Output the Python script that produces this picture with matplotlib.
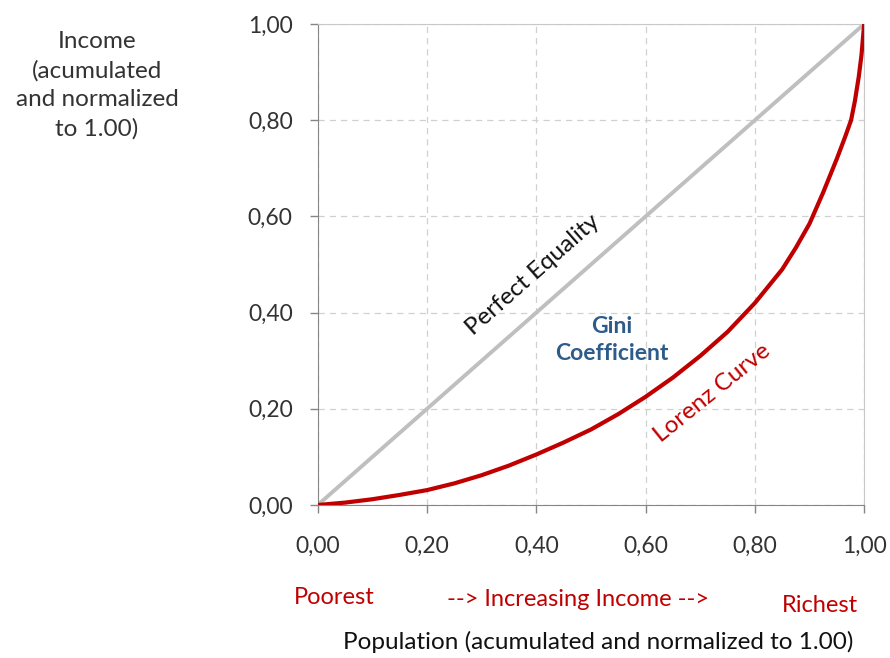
"""Lorenz curve vs. perfect equality line, Excel-style annotated chart."""

import matplotlib
matplotlib.use("Agg")
import matplotlib.pyplot as plt

# population share (x) and income share (y)
pop_share = [0.0, 0.05, 0.10, 0.15, 0.20, 0.25, 0.30, 0.35, 0.40, 0.45, 0.50,
             0.55, 0.60, 0.65, 0.70, 0.75, 0.80, 0.85, 0.875, 0.90, 0.925,
             0.95, 0.965, 0.976, 0.983, 0.99, 0.995, 1.0]
income_share = [0.0, 0.005, 0.012, 0.021, 0.031, 0.045, 0.062, 0.082, 0.105, 0.130, 0.157,
                0.189, 0.225, 0.265, 0.31, 0.36, 0.42, 0.49, 0.535, 0.585, 0.65,
                0.72, 0.765, 0.80, 0.84, 0.89, 0.935, 1.0]
equality_x = [0.0, 1.0]
equality_y = [0.0, 1.0]
ticks = [0.0, 0.2, 0.4, 0.6, 0.8, 1.0]
tick_labels = ["0,00", "0,20", "0,40", "0,60", "0,80", "1,00"]

RED = "#C00000"
BLUE = "#2E5C8A"
plt.rcParams["font.family"] = ["Lato", "DejaVu Sans"]

fig = plt.figure(figsize=(8.9, 6.58), dpi=100)
ax = fig.add_axes([0.357, 0.2325, 0.614, 0.731])

ax.plot(equality_x, equality_y, color="#BFBFBF", lw=2.8, solid_capstyle="butt", zorder=2)
ax.plot(pop_share, income_share, color=RED, lw=3.0, solid_joinstyle="round", zorder=3)

ax.set_xlim(0, 1)
ax.set_ylim(0, 1)
ax.set_xticks(ticks, labels=tick_labels)
ax.set_yticks(ticks, labels=tick_labels)
ax.grid(True, color="#D0D0D0", linestyle=(0, (5, 4)), lw=0.9, zorder=0)
ax.tick_params(axis="both", labelsize=16.5, colors="#868686", labelcolor="#333333",
               length=6, width=1, direction="out")
ax.tick_params(axis="x", pad=16)
ax.tick_params(axis="y", pad=12)
for side in ("left", "bottom"):
    ax.spines[side].set_color("#868686")
for side in ("top", "right"):
    ax.spines[side].set_color("#C8C8C8")

ax.text(0.394, 0.478, "Perfect Equality", rotation=41.4, rotation_mode="anchor",
        ha="center", va="center", fontsize=17.5, color="#111111")
ax.text(0.538, 0.343, "Gini\nCoefficient", ha="center", va="center", fontsize=16.5,
        fontweight="bold", color=BLUE, linespacing=1.3)
ax.text(0.723, 0.233, "Lorenz Curve", rotation=39, rotation_mode="anchor",
        ha="center", va="center", fontsize=17.5, color=RED)

fig.text(97 / 890, 1 - 85 / 658, "Income\n(acumulated\nand normalized\nto 1.00)",
         ha="center", va="center", fontsize=17.5, color="#333333", linespacing=1.45)
fig.text(334 / 890, 1 - 598 / 658, "Poorest", ha="center", va="center",
         fontsize=17, color=RED)
fig.text(578 / 890, 1 - 600 / 658, "--> Increasing Income -->", ha="center",
         va="center", fontsize=17, color=RED)
fig.text(820 / 890, 1 - 605 / 658, "Richest", ha="center", va="center",
         fontsize=17, color=RED)
fig.text(598 / 890, 1 - 642 / 658, "Population (acumulated and normalized to 1.00)",
         ha="center", va="center", fontsize=17.5, color="#111111")

fig.savefig("out.png", dpi=100)
